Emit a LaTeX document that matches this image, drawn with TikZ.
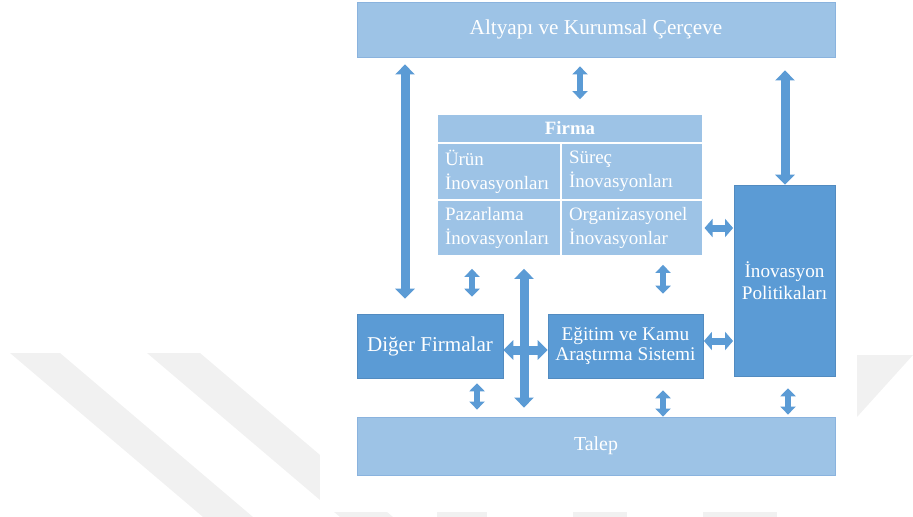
\documentclass[tikz,border=0pt]{standalone}
\usepackage{fontspec}
\setmainfont{Liberation Serif}
\usetikzlibrary{arrows.meta,calc}
\definecolor{lblue}{HTML}{9DC3E6}
\definecolor{dblue}{HTML}{5B9BD5}
\definecolor{lborder}{HTML}{8AB3DE}
\definecolor{wm}{HTML}{F1F1F1}
\begin{document}
\begin{tikzpicture}[x=0.75pt,y=-0.75pt,
  lbox/.style={fill=lblue,draw=lborder,line width=0.6pt,text=white,inner sep=0pt,align=center},
  dbox/.style={fill=dblue,draw=dblue!90!black,line width=0.4pt,text=white,inner sep=0pt,align=center},
  cell/.style={fill=lblue,draw=white,line width=1.3pt,text=white,align=left,inner xsep=6pt,
    font=\fontsize{14.2}{18}\selectfont},
  bigarr/.style={draw=dblue,line width=6.75pt,{Triangle[width=14.25pt,length=7.5pt]}-{Triangle[width=14.25pt,length=7.5pt]}},
  midarr/.style={draw=dblue,line width=5.25pt,{Triangle[width=13.5pt,length=6pt]}-{Triangle[width=13.5pt,length=6pt]}},
  smallarr/.style={draw=dblue,line width=4.5pt,{Triangle[width=11.25pt,length=6pt]}-{Triangle[width=11.25pt,length=6pt]}}]
\useasboundingbox (0,0) rectangle (913,517);
% faint watermark
\fill[wm] (10,353) -- (60,353) -- (253,517) -- (203,517) -- cycle;
\fill[wm] (147,353) -- (200,353) -- (393,517) -- (340,517) -- cycle;
\fill[white] (320,0) rectangle (857,512);
\fill[wm] (857,355) -- (913,355) -- (857,417) -- cycle;
\fill[wm] (437,512) rectangle (487,517);
\fill[wm] (573,512) rectangle (627,517);
\fill[wm] (703,512) rectangle (777,517);

% boxes
\node[lbox,minimum width=358.5pt,minimum height=41.25pt,font=\fontsize{15.9}{19}\selectfont]
  (top) at (596,29.5) {Altyapı ve Kurumsal Çerçeve};
\node[cell,align=center,text width=187.5pt,minimum height=21.75pt,font=\fontsize{14.1}{17}\selectfont\bfseries]
  (head) at (570,128.5) {Firma};
\node[cell,text width=81pt,minimum height=42.75pt] (c11) at (499,171.5) {Ürün\\İnovasyonları};
\node[cell,text width=94.5pt,minimum height=42.75pt] (c12) at (632,171.5) {Süreç\\İnovasyonları};
\node[cell,text width=81pt,minimum height=42pt] (c21) at (499,228) {Pazarlama\\İnovasyonları};
\node[cell,text width=94.5pt,minimum height=42pt] (c22) at (632,228) {Organizasyonel\\İnovasyonlar};
\node[dbox,minimum width=75.75pt,minimum height=143.25pt,font=\fontsize{14.4}{16.5}\selectfont]
  (pol) at (784.5,280.5) {İnovasyon\\Politikaları};
\node[dbox,minimum width=109.5pt,minimum height=48pt,font=\fontsize{15.8}{19}\selectfont]
  (dig) at (430,346) {Diğer Firmalar};
\node[dbox,minimum width=116.25pt,minimum height=48pt,font=\fontsize{14.5}{15.5}\selectfont]
  (egi) at (625.5,346) {Eğitim ve Kamu\\Araştırma Sistemi};
\node[lbox,minimum width=358.5pt,minimum height=43.5pt,font=\fontsize{14.9}{18}\selectfont]
  (tal) at (596,446) {Talep};

% reference coordinates for arrow positions
\coordinate (xA) at (405,0);
\coordinate (xB) at (580,0);
\coordinate (xC) at (785,0);
\coordinate (xD) at (472,0);
\coordinate (xE) at (663,0);
\coordinate (xF) at (524,0);
\coordinate (xG) at (477,0);
\coordinate (xH) at (788,0);
\coordinate (yA) at (0,228);
\coordinate (yB) at (0,350);
\coordinate (yC) at (0,341);

% arrows
\draw[bigarr,shorten <=5.25pt,shorten >=11.25pt] (top.south -| xA) -- (dig.north -| xA);
\draw[smallarr,shorten <=6.75pt,shorten >=10.5pt] (top.south -| xB) -- (head.north -| xB);
\draw[bigarr,shorten <=9.75pt] (top.south -| xC) -- (pol.north -| xC);
\draw[midarr,shorten <=0.5pt,shorten >=0.5pt] (c22.east |- yA) -- (pol.west |- yA);
\draw[smallarr,shorten <=9pt,shorten >=12.75pt] (c21.south -| xD) -- (dig.north -| xD);
\draw[smallarr,shorten <=6pt,shorten >=15pt] (c22.south -| xE) -- (egi.north -| xE);
\draw[bigarr,shorten <=9pt,shorten >=6.75pt] (c21.south -| xF) -- (tal.north -| xF);
\draw[bigarr] (dig.east |- yB) -- (egi.west |- yB);
\draw[midarr,shorten <=0.5pt,shorten >=0.5pt] (egi.east |- yC) -- (pol.west |- yC);
\draw[smallarr,shorten <=3.75pt,shorten >=5.25pt] (dig.south -| xG) -- (tal.north -| xG);
\draw[smallarr,shorten <=9pt] (egi.south -| xE) -- (tal.north -| xE);
\draw[smallarr,shorten <=9pt,shorten >=1.5pt] (pol.south -| xH) -- (tal.north -| xH);
\end{tikzpicture}
\end{document}
